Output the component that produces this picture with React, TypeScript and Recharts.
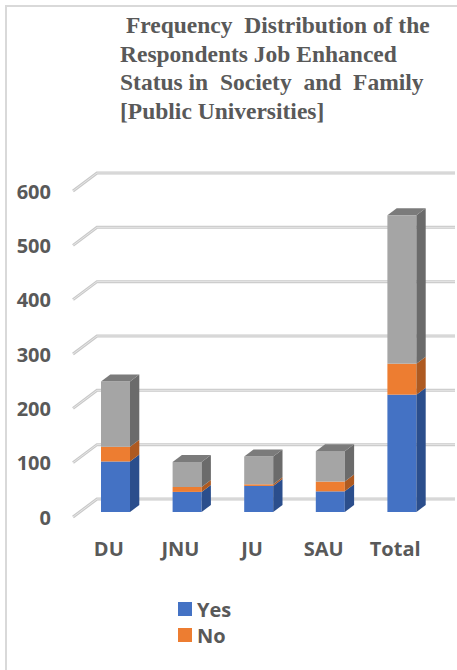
import React from "react";
import { Bar, BarChart, CartesianGrid, Legend, XAxis, YAxis } from "recharts";

const universities = ["DU", "JNU", "JU", "SAU", "Total"];
const yesValues = [93, 37, 48, 38, 216];
const noValues = [27, 9, 3, 18, 57];
const totalValues = [120, 46, 51, 56, 273];
const yTicks = [0, 100, 200, 300, 400, 500, 600];
const legendOrder = ["Yes", "No"];

const data = universities.map((name, i) => ({
  name,
  Yes: yesValues[i],
  No: noValues[i],
  Total: totalValues[i],
}));

// 3d offsets (px)
const DEPTH_X = 24;
const DEPTH_Y = -18;
const BAR_SHIFT_X = 7;
const BAR_SHIFT_Y = -5;
const BAR_DX = 9.3;
const BAR_DY = -7;

const textColor = "#595959";
const font = "'Open Sans', sans-serif";

function make3DBar(front: string, side: string, top?: string) {
  return (props: any) => {
    const { x, y, width, height } = props;
    if (width == null || height == null || height <= 0) return <g />;
    const fx = x + BAR_SHIFT_X;
    const fy = y + BAR_SHIFT_Y;
    const sidePts = [
      [fx + width, fy],
      [fx + width + BAR_DX, fy + BAR_DY],
      [fx + width + BAR_DX, fy + BAR_DY + height],
      [fx + width, fy + height],
    ]
      .map((p) => p.join(","))
      .join(" ");
    const topPts = [
      [fx, fy],
      [fx + BAR_DX, fy + BAR_DY],
      [fx + width + BAR_DX, fy + BAR_DY],
      [fx + width, fy],
    ]
      .map((p) => p.join(","))
      .join(" ");
    return (
      <g>
        <rect x={fx} y={fy} width={width} height={height} fill={front} />
        <polygon points={sidePts} fill={side} />
        {top && <polygon points={topPts} fill={top} />}
      </g>
    );
  };
}

const gridLine = (props: any) => {
  const { x1, x2, y1, key } = props;
  const pts = `${x1},${y1} ${x1 + DEPTH_X},${y1 + DEPTH_Y} ${x2 + DEPTH_X},${y1 + DEPTH_Y}`;
  return (
    <g key={key}>
      <polyline points={pts} fill="none" stroke="#c9c9c9" strokeWidth={3} />
      <polyline points={pts} fill="none" stroke="#e6e6e6" strokeWidth={1} />
    </g>
  );
};

const YTick = (props: any) => {
  const { y, payload } = props;
  return (
    <text
      x={51}
      y={y}
      textAnchor="end"
      dominantBaseline="central"
      fill={textColor}
      fontFamily={font}
      fontWeight={700}
      fontSize={20}
    >
      {payload.value}
    </text>
  );
};

const XTick = (props: any) => {
  const { x, payload } = props;
  return (
    <text
      x={x}
      y={548}
      textAnchor="middle"
      dominantBaseline="central"
      fill={textColor}
      fontFamily={font}
      fontWeight={700}
      fontSize={20}
    >
      {payload.value}
    </text>
  );
};

const LegendContent = (props: any) => {
  const items = (props.payload || [])
    .filter((p: any) => p.type !== "none")
    .sort(
      (a: any, b: any) =>
        legendOrder.indexOf(a.value) - legendOrder.indexOf(b.value)
    );
  return (
    <div>
      {items.map((item: any) => (
        <div
          key={item.value}
          style={{
            display: "flex",
            alignItems: "center",
            height: 26,
            fontFamily: font,
            fontWeight: 700,
            fontSize: 20,
            color: textColor,
          }}
        >
          <span
            style={{
              width: 14,
              height: 14,
              background: item.color,
              marginRight: 5,
              display: "inline-block",
            }}
          />
          {item.value}
        </div>
      ))}
    </div>
  );
};

export default function App() {
  return (
    <div
      style={{
        position: "absolute",
        left: 0,
        top: 0,
        width: 457,
        height: 670,
        background: "#fff",
        overflow: "hidden",
      }}
    >
      <div
        style={{
          position: "absolute",
          left: 5,
          top: 5,
          width: 470,
          height: 690,
          borderLeft: "2px solid #d9d9d9",
          borderTop: "2px solid #d9d9d9",
        }}
      />
      <div
        style={{
          position: "absolute",
          left: 120,
          top: 11,
          fontFamily: "'Liberation Serif', 'Times New Roman', serif",
          fontWeight: 700,
          fontSize: 23.5,
          lineHeight: "28.5px",
          color: textColor,
          whiteSpace: "pre",
        }}
      >
        {" Frequency  Distribution of the\nRespondents Job Enhanced\nStatus in  Society  and  Family\n[Public Universities]"}
      </div>
      <div style={{ position: "absolute", left: 0, top: 0 }}>
        <BarChart
          width={457}
          height={670}
          data={data}
          margin={{ top: 191, right: 26, left: 0, bottom: 123 }}
        >
          <CartesianGrid vertical={false} horizontal={gridLine} />
          <XAxis
            dataKey="name"
            height={30}
            axisLine={false}
            tickLine={false}
            tick={<XTick />}
            interval={0}
          />
          <YAxis
            width={73}
            domain={[0, 600]}
            ticks={yTicks}
            axisLine={false}
            tickLine={false}
            tick={<YTick />}
          />
          <Legend
            layout="vertical"
            align="center"
            verticalAlign="middle"
            wrapperStyle={{ left: 178, top: 596, width: 120 }}
            content={<LegendContent />}
          />
          <Bar
            dataKey="Yes"
            stackId="a"
            fill="#4472C4"
            barSize={29}
            isAnimationActive={false}
            shape={make3DBar("#4472C4", "#2B4E8C")}
          />
          <Bar
            dataKey="No"
            stackId="a"
            fill="#ED7D31"
            barSize={29}
            isAnimationActive={false}
            shape={make3DBar("#ED7D31", "#AE5A21")}
          />
          <Bar
            dataKey="Total"
            stackId="a"
            fill="#A5A5A5"
            barSize={29}
            legendType="none"
            isAnimationActive={false}
            shape={make3DBar("#A5A5A5", "#6B6B6B", "#7B7B7B")}
          />
        </BarChart>
      </div>
    </div>
  );
}
